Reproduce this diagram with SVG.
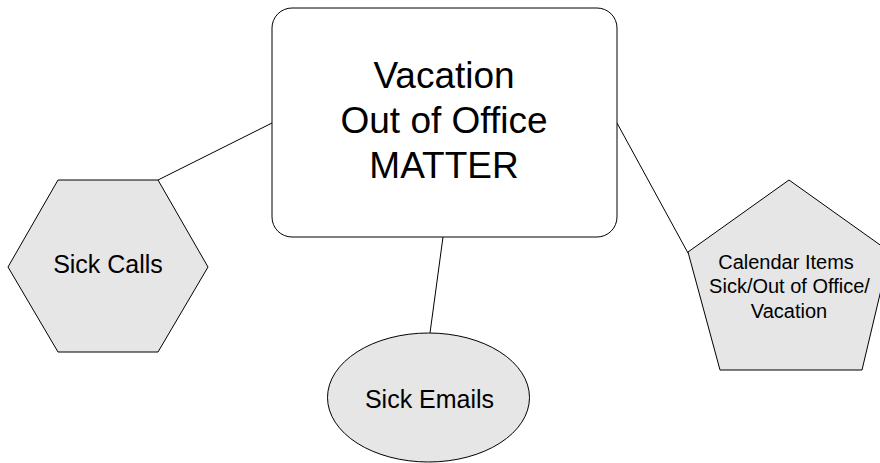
<svg xmlns="http://www.w3.org/2000/svg" width="880" height="463" viewBox="0 0 880 463">
<style>
.shape{fill:#e6e6e6;stroke:#000;stroke-width:1}
.main{fill:#fff;stroke:#000;stroke-width:1}
.conn{stroke:#000;stroke-width:1;fill:none}
text{font-family:"Liberation Sans",Arial,sans-serif;fill:#000;text-anchor:middle}
</style>
<rect width="880" height="463" fill="#fff"/>
<g id="connectors">
<line class="conn" x1="158" y1="180" x2="272" y2="123"/>
<line class="conn" x1="617" y1="123" x2="688" y2="253"/>
<line class="conn" x1="443" y1="237" x2="430" y2="333"/>
</g>
<g id="matter">
<rect class="main" x="272" y="8" width="345" height="229" rx="20" ry="20"/>
<text x="444" y="88" font-size="37">Vacation</text>
<text x="444" y="133" font-size="37">Out of Office</text>
<text x="444" y="178" font-size="37">MATTER</text>
</g>
<g id="sick-calls">
<polygon class="shape" points="58,180 158,180 208,267 158,352 58,352 8,267"/>
<text x="108" y="273" font-size="25">Sick Calls</text>
</g>
<g id="sick-emails">
<ellipse class="shape" cx="428.5" cy="397.5" rx="101" ry="64.5"/>
<text x="429.5" y="408" font-size="25">Sick Emails</text>
</g>
<g id="calendar-items">
<polygon class="shape" points="789,180 890,252 862,370 720,370 688,252"/>
<text x="786" y="269" font-size="20">Calendar Items</text>
<text x="789.5" y="293" font-size="20">Sick/Out of Office/</text>
<text x="789" y="318" font-size="20">Vacation</text>
</g>
</svg>
